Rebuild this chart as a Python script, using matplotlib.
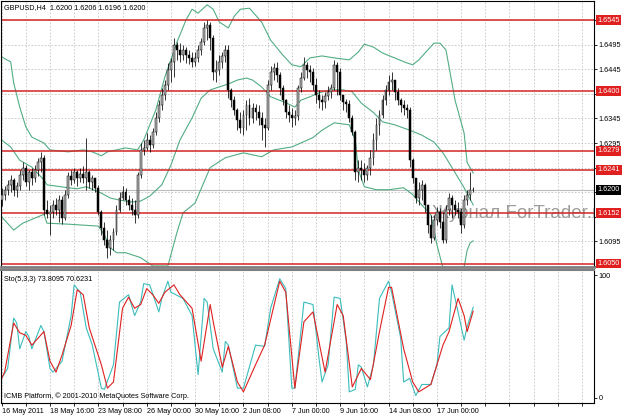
import matplotlib.pyplot as plt
import matplotlib.transforms as mtransforms

plt.rcParams['font.family'] = ['Liberation Sans', 'DejaVu Sans']

# ---------------- DATA ----------------
first_open = 1.6179
closes = [1.6189, 1.6200, 1.6210, 1.6220, 1.6200, 1.6208, 1.6230, 1.6244, 1.6216, 1.6236,
          1.6224, 1.6240, 1.6256, 1.6265, 1.6159, 1.6151, 1.6155, 1.6169, 1.6159, 1.6179,
          1.6143, 1.6189, 1.6228, 1.6220, 1.6236, 1.6224, 1.6232, 1.6224, 1.6236, 1.6216,
          1.6224, 1.6204, 1.6155, 1.6122, 1.6098, 1.6082, 1.6098, 1.6114, 1.6159, 1.6183,
          1.6195, 1.6179, 1.6169, 1.6159, 1.6149, 1.6230, 1.6281, 1.6285, 1.6301, 1.6291,
          1.6317, 1.6346, 1.6372, 1.6392, 1.6413, 1.6443, 1.6460, 1.6494, 1.6484, 1.6474,
          1.6484, 1.6474, 1.6468, 1.6460, 1.6468, 1.6484, 1.6500, 1.6529, 1.6535, 1.6508,
          1.6439, 1.6443, 1.6460, 1.6472, 1.6484, 1.6403, 1.6382, 1.6362, 1.6342, 1.6325,
          1.6352, 1.6372, 1.6346, 1.6366, 1.6358, 1.6346, 1.6332, 1.6325, 1.6413, 1.6439,
          1.6448, 1.6433, 1.6407, 1.6382, 1.6358, 1.6352, 1.6346, 1.6350, 1.6407, 1.6427,
          1.6454, 1.6443, 1.6439, 1.6413, 1.6392, 1.6382, 1.6378, 1.6390, 1.6399, 1.6407,
          1.6454, 1.6439, 1.6392, 1.6378, 1.6374, 1.6346, 1.6317, 1.6236, 1.6244, 1.6240,
          1.6230, 1.6244, 1.6265, 1.6301, 1.6332, 1.6352, 1.6382, 1.6403, 1.6419, 1.6423,
          1.6399, 1.6382, 1.6372, 1.6366, 1.6362, 1.6260, 1.6224, 1.6183, 1.6200, 1.6210,
          1.6169, 1.6128, 1.6102, 1.6139, 1.6155, 1.6134, 1.6098, 1.6159, 1.6183, 1.6169,
          1.6159, 1.6155, 1.6128, 1.6179, 1.6189, 1.6200, 1.6200]
highs = [1.6204, 1.6208, 1.6220, 1.6230, 1.6224, 1.6216, 1.6240, 1.6256, 1.6250, 1.6240,
         1.6244, 1.6250, 1.6265, 1.6277, 1.6271, 1.6179, 1.6169, 1.6179, 1.6183, 1.6189,
         1.6187, 1.6200, 1.6236, 1.6240, 1.6244, 1.6240, 1.6244, 1.6248, 1.6305, 1.6240,
         1.6230, 1.6224, 1.6210, 1.6159, 1.6134, 1.6118, 1.6108, 1.6122, 1.6169, 1.6195,
         1.6208, 1.6204, 1.6189, 1.6183, 1.6179, 1.6236, 1.6295, 1.6301, 1.6315, 1.6311,
         1.6326, 1.6358, 1.6382, 1.6407, 1.6423, 1.6458, 1.6468, 1.6509, 1.6500, 1.6498,
         1.6494, 1.6490, 1.6484, 1.6480, 1.6480, 1.6494, 1.6509, 1.6541, 1.6545, 1.6541,
         1.6514, 1.6464, 1.6474, 1.6480, 1.6494, 1.6494, 1.6407, 1.6390, 1.6366, 1.6358,
         1.6362, 1.6382, 1.6386, 1.6376, 1.6374, 1.6372, 1.6358, 1.6346, 1.6423, 1.6452,
         1.6458, 1.6460, 1.6439, 1.6413, 1.6384, 1.6372, 1.6366, 1.6362, 1.6413, 1.6439,
         1.6470, 1.6460, 1.6454, 1.6448, 1.6427, 1.6403, 1.6392, 1.6399, 1.6411, 1.6415,
         1.6464, 1.6460, 1.6448, 1.6392, 1.6384, 1.6382, 1.6352, 1.6321, 1.6260, 1.6260,
         1.6254, 1.6250, 1.6281, 1.6315, 1.6346, 1.6362, 1.6392, 1.6413, 1.6433, 1.6439,
         1.6423, 1.6407, 1.6386, 1.6382, 1.6374, 1.6368, 1.6265, 1.6224, 1.6216, 1.6220,
         1.6214, 1.6169, 1.6149, 1.6149, 1.6165, 1.6163, 1.6155, 1.6169, 1.6193, 1.6189,
         1.6179, 1.6175, 1.6163, 1.6189, 1.6200, 1.6236, 1.6206]
lows = [1.6167, 1.6179, 1.6189, 1.6195, 1.6187, 1.6185, 1.6200, 1.6220, 1.6208, 1.6200,
        1.6210, 1.6216, 1.6228, 1.6236, 1.6149, 1.6143, 1.6108, 1.6143, 1.6149, 1.6134,
        1.6130, 1.6139, 1.6183, 1.6210, 1.6214, 1.6208, 1.6216, 1.6214, 1.6200, 1.6204,
        1.6200, 1.6195, 1.6149, 1.6108, 1.6088, 1.6061, 1.6067, 1.6078, 1.6108, 1.6155,
        1.6179, 1.6169, 1.6159, 1.6149, 1.6132, 1.6143, 1.6224, 1.6271, 1.6281, 1.6277,
        1.6285, 1.6311, 1.6338, 1.6362, 1.6382, 1.6403, 1.6419, 1.6429, 1.6464, 1.6460,
        1.6464, 1.6458, 1.6456, 1.6450, 1.6452, 1.6460, 1.6474, 1.6494, 1.6504, 1.6484,
        1.6423, 1.6419, 1.6433, 1.6447, 1.6460, 1.6386, 1.6368, 1.6352, 1.6321, 1.6315,
        1.6311, 1.6321, 1.6332, 1.6336, 1.6342, 1.6332, 1.6301, 1.6287, 1.6321, 1.6403,
        1.6423, 1.6419, 1.6392, 1.6372, 1.6346, 1.6338, 1.6328, 1.6332, 1.6342, 1.6399,
        1.6423, 1.6427, 1.6419, 1.6403, 1.6376, 1.6366, 1.6362, 1.6366, 1.6382, 1.6386,
        1.6403, 1.6392, 1.6382, 1.6362, 1.6358, 1.6338, 1.6311, 1.6220, 1.6216, 1.6220,
        1.6216, 1.6220, 1.6230, 1.6250, 1.6281, 1.6311, 1.6346, 1.6372, 1.6392, 1.6403,
        1.6382, 1.6372, 1.6358, 1.6352, 1.6346, 1.6246, 1.6214, 1.6173, 1.6169, 1.6179,
        1.6155, 1.6112, 1.6092, 1.6098, 1.6128, 1.6122, 1.6092, 1.6092, 1.6149, 1.6143,
        1.6149, 1.6143, 1.6112, 1.6122, 1.6169, 1.6179, 1.6196]
opens = [first_open] + closes[:-1]

# Bollinger bands, read at sample bars
bb_up_bar = [0, 3, 4, 6, 8, 10, 14, 16, 22, 27, 30, 33, 35, 41, 45, 47, 51, 54, 58, 61,
             63, 65, 68, 70, 72, 75, 77, 79, 82, 84, 86, 89, 93, 96, 99, 102, 106, 110, 115, 118,
             120, 123, 126, 130, 134, 136, 138, 142, 143, 145, 147, 148, 150, 153, 154, 156]
bb_up = [1.6470, 1.6460, 1.6417, 1.6368, 1.6328, 1.6307, 1.6295, 1.6281, 1.6277, 1.6281,
         1.6277, 1.6269, 1.6277, 1.6285, 1.6281, 1.6301, 1.6362, 1.6429, 1.6500, 1.6545,
         1.6567, 1.6559, 1.6576, 1.6567, 1.6541, 1.6529, 1.6553, 1.6567, 1.6569, 1.6555,
         1.6541, 1.6504, 1.6474, 1.6454, 1.6450, 1.6468, 1.6472, 1.6468, 1.6464, 1.6480,
         1.6496, 1.6490, 1.6478, 1.6468, 1.6458, 1.6454, 1.6464, 1.6491, 1.6498, 1.6498,
         1.6484, 1.6450, 1.6382, 1.6315, 1.6255, 1.6234]
bb_mid_bar = [0, 3, 6, 10, 14, 15, 22, 25, 28, 33, 36, 39, 43, 46, 49, 53, 56, 59, 63, 66,
              69, 73, 75, 78, 81, 83, 86, 89, 94, 97, 99, 102, 105, 109, 113, 116, 119, 123, 126, 130,
              135, 139, 143, 146, 149, 153, 156]
bb_mid = [1.6301, 1.6287, 1.6260, 1.6246, 1.6220, 1.6210, 1.6204, 1.6202, 1.6206, 1.6193,
          1.6183, 1.6179, 1.6175, 1.6177, 1.6187, 1.6210, 1.6250, 1.6301, 1.6346, 1.6386,
          1.6403, 1.6411, 1.6415, 1.6423, 1.6427, 1.6423, 1.6409, 1.6389, 1.6377, 1.6368,
          1.6382, 1.6389, 1.6397, 1.6403, 1.6403, 1.6399, 1.6376, 1.6357, 1.6338, 1.6332,
          1.6321, 1.6311, 1.6297, 1.6275, 1.6245, 1.6204, 1.6169]
bb_low_bar = [0, 4, 7, 14, 15, 22, 32, 34, 36, 38, 41, 46, 50, 55, 58, 60, 64, 69, 74, 80,
              86, 90, 96, 103, 106, 110, 115, 117, 118, 120, 124, 128, 133, 136, 139, 142, 144, 146, 148, 151,
              153, 154, 155, 156]
bb_low = [1.6145, 1.6118, 1.6132, 1.6150, 1.6132, 1.6130, 1.6126, 1.6108, 1.6082, 1.6072,
          1.6072, 1.6062, 1.6045, 1.6045, 1.6113, 1.6153, 1.6173, 1.6245, 1.6265, 1.6275,
          1.6267, 1.6281, 1.6287, 1.6306, 1.6321, 1.6336, 1.6332, 1.6301, 1.6240, 1.6206,
          1.6200, 1.6200, 1.6204, 1.6190, 1.6169, 1.6149, 1.6088, 1.6041, 1.6006, 1.6006,
          1.6043, 1.6077, 1.6092, 1.6096]

# Stochastic (5,3,3)
sto_main_bar = [0, 2, 4, 5, 6, 8, 9, 10, 13, 14, 16, 17, 20, 23, 24, 26, 28, 30, 33, 34,
                37, 39, 42, 44, 46, 47, 49, 52, 53, 55, 56, 60, 63, 65, 67, 68, 70, 73, 74, 75,
                78, 80, 84, 87, 89, 92, 94, 96, 97, 99, 100, 103, 105, 106, 108, 110, 112, 114, 115, 117,
                118, 119, 121, 123, 125, 128, 129, 132, 133, 135, 137, 139, 142, 144, 145, 148, 149, 150, 153, 154,
                156]
sto_main = [16, 24, 65, 61, 40, 54, 50, 40, 59, 54, 24, 21, 30, 67, 92, 86, 57, 43, 8, 7,
            27, 78, 84, 67, 78, 93, 92, 70, 81, 95, 86, 81, 67, 19, 81, 78, 40, 21, 46, 43,
            8, 8, 43, 42, 73, 97, 89, 8, 8, 54, 78, 76, 32, 13, 27, 82, 81, 46, 5, 7,
            27, 25, 9, 27, 81, 95, 86, 49, 13, 16, 2, 11, 11, 27, 50, 57, 92, 81, 47, 58,
            73.81]
sto_sig_bar = [0, 1, 4, 6, 8, 10, 14, 16, 18, 20, 23, 25, 27, 29, 33, 35, 37, 40, 42, 44,
               46, 48, 50, 52, 54, 57, 59, 63, 66, 69, 70, 73, 75, 78, 80, 84, 87, 92, 94, 97,
               100, 103, 107, 111, 113, 116, 119, 122, 125, 128, 129, 133, 136, 138, 142, 146, 148, 151, 153, 154,
               156]
sto_sig = [16, 21, 61, 53, 51, 43, 54, 30, 21, 35, 59, 88, 84, 57, 27, 8, 13, 73, 82, 73,
           76, 89, 84, 77, 86, 92, 84, 73, 30, 76, 62, 25, 42, 13, 5, 27, 43, 95, 86, 8,
           62, 70, 21, 76, 67, 9, 24, 15, 54, 90, 90, 40, 13, 5, 11, 43, 54, 81, 67, 54,
           70.62]

red_levels = [1.6545, 1.6400, 1.6279, 1.6241, 1.6152, 1.6050]
bid = 1.6200
grid_levels = [1.6045, 1.6095, 1.6145, 1.6195, 1.6245, 1.6295, 1.6345, 1.6395, 1.6445, 1.6495, 1.6545]
shown_prices = ['1.6095', '1.6295', '1.6345', '1.6445', '1.6495']
time_bars = [0, 16, 32, 48, 64, 80, 96, 112, 128, 144]
time_labels = ['16 May 2011', '18 May 16:00', '23 May 08:00', '26 May 00:00', '30 May 16:00',
               '2 Jun 08:00', '7 Jun 00:00', '9 Jun 16:00', '14 Jun 08:00', '17 Jun 00:00']

FS = 5.2
W, H = 623, 416

# ---------------- FIGURE ----------------
fig = plt.figure(figsize=(W / 100, H / 100), dpi=100)
ax = fig.add_axes([1 / W, 1 - 267 / H, 593 / W, 266 / H])
ax2 = fig.add_axes([1 / W, 1 - 403 / H, 593 / W, 133 / H])

xlim = (-0.2, 195.96)
for a in (ax, ax2):
    a.set_xlim(*xlim)
    a.set_xticks(range(0, 196, 8))
    a.grid(True, axis='x', color='#c4c4c4', linestyle=(0, (2, 2)), linewidth=0.6)
    a.set_axisbelow(True)
    for s in ('left', 'right', 'top', 'bottom'):
        a.spines[s].set_color('black')
        a.spines[s].set_linewidth(0.8)

ax.set_ylim(1.60429, 1.65837)
ax.grid(True, axis='y', color='#c4c4c4', linestyle=(0, (2, 2)), linewidth=0.6)
ax.spines['bottom'].set_color('#808080')
ax.spines['bottom'].set_linewidth(2)
ax2.spines['top'].set_color('#808080')
ax2.spines['top'].set_linewidth(1.5)

# price axis on the right
ax.yaxis.tick_right()
ax.set_yticks(grid_levels)
ax.set_yticklabels([f'{v:.4f}' if f'{v:.4f}' in shown_prices else '' for v in grid_levels])
ax.tick_params(axis='y', length=2, width=0.6, pad=1.5, labelsize=FS)
ax.tick_params(axis='x', length=0, labelbottom=False)

# watermark, under the candles and clipped at the price axis
ax.text(0.726, 0.203, 'Журнал ForTrader.ru', transform=ax.transAxes, fontsize=13.5,
        color='#9c9c9c', ha='left', va='center', zorder=1.5, clip_on=True)

# candles
x = list(range(len(closes)))
ax.vlines(x, lows, highs, colors='black', linewidth=0.55, zorder=3)
bottoms = [min(o, c) for o, c in zip(opens, closes)]
heights = [max(abs(c - o), 0.00004) for o, c in zip(opens, closes)]
faces = ['#b4b4b4' if c >= o else 'black' for o, c in zip(opens, closes)]
ax.bar(x, heights, bottom=bottoms, width=0.62, color=faces, edgecolor='black',
       linewidth=0.35, zorder=4)

# bollinger bands
bb_col = '#52ad84'
ax.plot(bb_up_bar, bb_up, color=bb_col, lw=0.8, zorder=2)
ax.plot(bb_mid_bar, bb_mid, color=bb_col, lw=0.8, zorder=2)
ax.plot(bb_low_bar, bb_low, color=bb_col, lw=0.8, zorder=2)

# horizontal levels
trans = mtransforms.blended_transform_factory(ax.transAxes, ax.transData)
ax.axhline(bid, color='#bcbcbc', lw=0.8, zorder=1)
for lvl in red_levels:
    ax.axhline(lvl, color='#d42424', lw=1.1, zorder=2)
    ax.text(1.006, lvl, f'{lvl:.4f}', transform=trans, ha='left', va='center', fontsize=FS,
            color='white', clip_on=False, zorder=10,
            bbox=dict(boxstyle='square,pad=0.2', fc='#e01f1f', ec='none'))
ax.text(1.006, bid, f'{bid:.4f}', transform=trans, ha='left', va='center', fontsize=FS,
        color='white', clip_on=False, zorder=10,
        bbox=dict(boxstyle='square,pad=0.2', fc='black', ec='none'))

ax.text(0.005, 0.977, 'GBPUSD,H4  1.6200 1.6206 1.6196 1.6200', transform=ax.transAxes,
        ha='left', va='center', fontsize=FS, color='black')

# stochastic
ax2.set_ylim(-4.07, 104.1)
ax2.plot(sto_main_bar, sto_main, color='#3cbcbc', lw=0.8)
ax2.plot(sto_sig_bar, sto_sig, color='#e02020', lw=0.8)
ax2.yaxis.tick_right()
ax2.set_yticks([0, 100])
ax2.set_yticklabels(['0', '100'])
ax2.tick_params(axis='y', length=2, width=0.6, pad=1.5, labelsize=FS)
ax2.set_xticklabels([time_labels[time_bars.index(b)] if b in time_bars else ''
                     for b in range(0, 196, 8)])
ax2.tick_params(axis='x', length=2, width=0.6, pad=1.5, labelsize=FS)
for lab in ax2.get_xticklabels():
    lab.set_horizontalalignment('left')

ax2.text(0.005, 0.932, 'Sto(5,3,3) 73.8095 70.6231', transform=ax2.transAxes,
         ha='left', va='center', fontsize=FS, color='black')
ax2.text(0.005, 0.053, 'ICMB Platform, \u00a9 2001-2010 MetaQuotes Software Corp.',
         transform=ax2.transAxes, ha='left', va='center', fontsize=FS, color='black')

fig.savefig('out.png', dpi=100)
